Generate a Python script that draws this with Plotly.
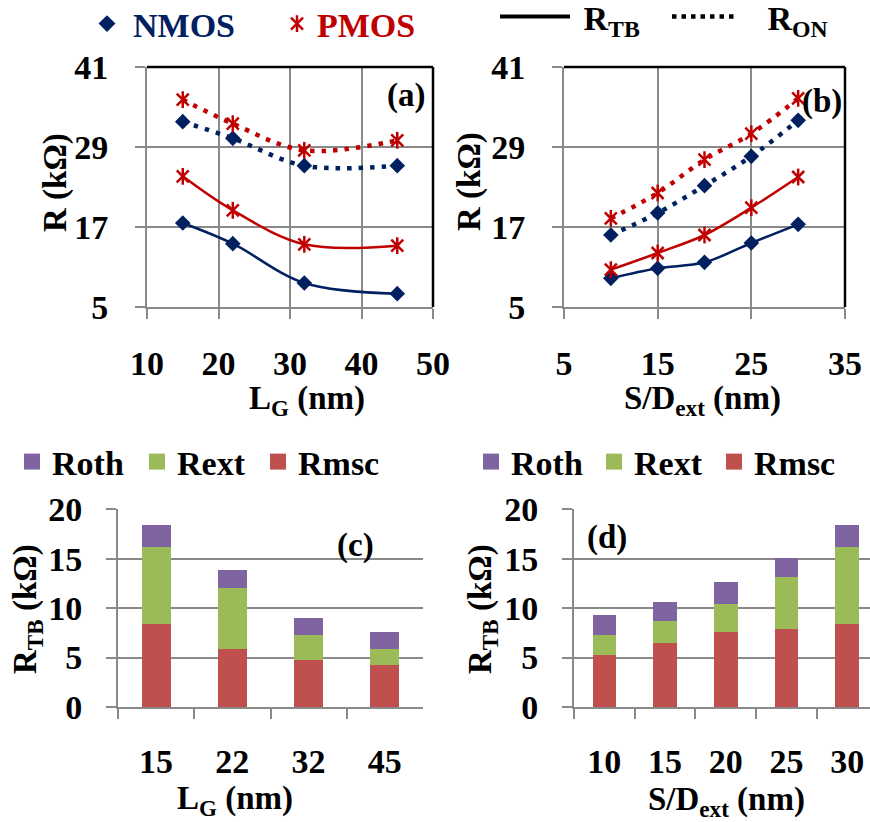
import plotly.graph_objects as go

FONT = "Liberation Serif"
NAVY = "#002060"
RED = "#C00000"
GRID = "#898989"
C_ROTH = "#8064A2"
C_REXT = "#9BBB59"
C_RMSC = "#C0504D"

W, H = 870, 822

# (a) resistance versus gate length
lg = [15, 22, 32, 45]
nmos_rtb_lg = [17.6, 14.5, 8.6, 7.0]
pmos_rtb_lg = [24.6, 19.5, 14.4, 14.2]
nmos_ron_lg = [32.8, 30.3, 26.2, 26.2]
pmos_ron_lg = [36.1, 32.5, 28.5, 30.0]

# (b) resistance versus S/D extension length
sd = [10, 15, 20, 25, 30]
nmos_rtb_sd = [9.3, 10.8, 11.7, 14.6, 17.4]
pmos_rtb_sd = [10.6, 13.1, 15.8, 19.9, 24.5]
nmos_ron_sd = [15.8, 19.1, 23.2, 27.6, 33.0]
pmos_ron_sd = [18.3, 22.1, 27.1, 31.0, 36.3]

# (c) R_TB components versus gate length
lg_cat = ["15", "22", "32", "45"]
rmsc_lg = [8.4, 5.9, 4.8, 4.2]
rext_lg = [7.8, 6.1, 2.5, 1.7]
roth_lg = [2.2, 1.9, 1.7, 1.65]

# (d) R_TB components versus S/D extension length
sd_cat = ["10", "15", "20", "25", "30"]
rmsc_sd = [5.3, 6.45, 7.6, 7.9, 8.4]
rext_sd = [2.0, 2.3, 2.8, 5.3, 7.8]
roth_sd = [2.0, 1.9, 2.2, 1.9, 2.2]


def px(x):
    return x / W


def py(y):
    return 1 - y / H


def bold(size, color="black"):
    return dict(family=FONT, size=size, color=color, weight="bold")


fig = go.Figure()

SOLID = dict(width=2.5, shape="spline")
DOTTED = dict(width=4.5, dash="4.5px,7px", shape="spline")
DIAMOND = dict(symbol="diamond", size=12, color=NAVY)
XMARK = dict(symbol="x-thin-open", size=12, line=dict(width=2.5, color=RED), color=RED)
VMARK = dict(symbol="line-ns-open", size=12, line=dict(width=2.5, color=RED), color=RED)


def add_lines(x, n_rtb, p_rtb, n_ron, p_ron, xa, ya):
    for y, style in ((n_ron, DOTTED), (n_rtb, SOLID)):
        fig.add_trace(go.Scatter(x=x, y=y, mode="lines+markers", showlegend=False,
                                 line=dict(color=NAVY, **style), marker=DIAMOND,
                                 xaxis=xa, yaxis=ya, cliponaxis=False))
    for y, style in ((p_ron, DOTTED), (p_rtb, SOLID)):
        fig.add_trace(go.Scatter(x=x, y=y, mode="lines+markers", showlegend=False,
                                 line=dict(color=RED, **style), marker=XMARK,
                                 xaxis=xa, yaxis=ya, cliponaxis=False))
        fig.add_trace(go.Scatter(x=x, y=y, mode="markers", showlegend=False,
                                 marker=VMARK, xaxis=xa, yaxis=ya, cliponaxis=False))


add_lines(lg, nmos_rtb_lg, pmos_rtb_lg, nmos_ron_lg, pmos_ron_lg, "x", "y")
add_lines(sd, nmos_rtb_sd, pmos_rtb_sd, nmos_ron_sd, pmos_ron_sd, "x2", "y2")

# legend keys for the line panels
fig.add_trace(go.Scatter(x=[None], y=[None], mode="markers", name="NMOS",
                         marker=dict(symbol="diamond", size=13, color=NAVY), legend="legend"))
fig.add_trace(go.Scatter(x=[None], y=[None], mode="markers", name="PMOS",
                         marker=XMARK, legend="legend2"))
fig.add_trace(go.Scatter(x=[None], y=[None], mode="markers", name=" ",
                         marker=VMARK, legend="legend3"))
fig.add_trace(go.Scatter(x=[None], y=[None], mode="lines", name="\u00a0R<sub>TB</sub>",
                         line=dict(color="black", width=4), legend="legend4"))
fig.add_trace(go.Scatter(x=[None], y=[None], mode="lines", name="\u2002\u00a0R<sub>ON</sub>",
                         line=dict(color="black", width=4.5, dash="4.5px,5px"), legend="legend5"))


# stacked bars; legend keys are square markers so the swatch size can be set
def add_bars(cats, rmsc, rext, roth, xa, ya, width, legs):
    for name, vals, col, lgd in (("Rmsc", rmsc, C_RMSC, legs[2]),
                                 ("Rext", rext, C_REXT, legs[1]),
                                 ("Roth", roth, C_ROTH, legs[0])):
        fig.add_trace(go.Bar(x=cats, y=vals, name=name, showlegend=False,
                             marker=dict(color=col, line=dict(width=0)),
                             width=width, xaxis=xa, yaxis=ya))
        fig.add_trace(go.Scatter(x=[None], y=[None], mode="markers", name=name,
                                 marker=dict(symbol="square", size=16, color=col),
                                 xaxis=xa, yaxis=ya, legend=lgd))


add_bars(lg_cat, rmsc_lg, rext_lg, roth_lg, "x3", "y3", 0.38, ("legend6", "legend7", "legend8"))
add_bars(sd_cat, rmsc_sd, rext_sd, roth_sd, "x4", "y4", 0.39, ("legend9", "legend10", "legend11"))

TICKFONT = bold(34)
common_ax = dict(showline=True, linecolor=GRID, linewidth=2, ticks="outside", ticklen=10,
                 tickwidth=2, tickcolor=GRID, tickfont=TICKFONT, zeroline=False)

line_x = dict(common_ax, showgrid=True, gridcolor=GRID, gridwidth=2, dtick=10, ticklabelstandoff=15)
line_y = dict(common_ax, showgrid=True, gridcolor=GRID, gridwidth=2, dtick=12, tick0=5,
              range=[5, 41], ticklabelstandoff=20)
bar_x = dict(common_ax, showgrid=False, type="category", tickson="boundaries", ticklabelstandoff=23)
bar_y = dict(common_ax, showgrid=True, gridcolor=GRID, gridwidth=2, dtick=5, range=[0, 20],
             ticklabelstandoff=17)

Y_TOP = [py(307), py(67)]
Y_BOT = [py(707), py(509.3)]

fig.update_layout(
    xaxis=dict(line_x, domain=[px(147), px(433)], range=[10, 50], tick0=10, anchor="y"),
    yaxis=dict(line_y, domain=Y_TOP, anchor="x"),
    xaxis2=dict(line_x, domain=[px(564), px(845)], range=[5, 35], tick0=5, anchor="y2"),
    yaxis2=dict(line_y, domain=Y_TOP, anchor="x2"),
    xaxis3=dict(bar_x, domain=[px(118), px(423)], range=[-0.5, 3.5], anchor="y3"),
    yaxis3=dict(bar_y, domain=Y_BOT, anchor="x3"),
    xaxis4=dict(bar_x, domain=[px(574), 1.0], range=[-0.5, 4.376], anchor="y4"),
    yaxis4=dict(bar_y, domain=Y_BOT, anchor="x4"),
    barmode="stack",
    width=W, height=H,
    margin=dict(l=0, r=0, t=0, b=0, autoexpand=False),
    paper_bgcolor="white", plot_bgcolor="white",
)


def legend_at(xp, yp, color="black", itemwidth=30):
    return dict(x=px(xp), y=py(yp), xanchor="left", yanchor="middle", font=bold(34, color),
                bgcolor="rgba(0,0,0,0)", borderwidth=0, itemwidth=itemwidth,
                orientation="h", traceorder="normal")


fig.update_layout(
    legend=legend_at(81, 24, NAVY, 42),
    legend2=legend_at(277, 24, RED),
    legend3=legend_at(277, 24, RED),
    legend4=legend_at(495, 17, "black", 70),
    legend5=legend_at(667, 17, "black", 65),
    legend6=legend_at(12, 462),
    legend7=legend_at(137, 462),
    legend8=legend_at(258, 462),
    legend9=legend_at(471, 462),
    legend10=legend_at(594, 462),
    legend11=legend_at(714, 462),
)

# black frame on the top and right of the line panels
for xa, ya in (("x", "y"), ("x2", "y2")):
    fig.add_shape(type="line", xref=f"{xa} domain", yref=f"{ya} domain", x0=0, x1=1, y0=1, y1=1,
                  line=dict(color="black", width=2.5))
    fig.add_shape(type="line", xref=f"{xa} domain", yref=f"{ya} domain", x0=1, x1=1, y0=0, y1=1,
                  line=dict(color="black", width=2.5))

ann = [
    ("R (kΩ)", 55, 183, -90),
    ("R (kΩ)", 469, 182, -90),
    ("L<sub>G</sub> (nm)", 307, 400, 0),
    ("S/D<sub>ext</sub> (nm)", 702, 400, 0),
    ("R<sub>TB</sub> (kΩ)", 27, 609, -90),
    ("R<sub>TB</sub> (kΩ)", 482, 609, -90),
    ("L<sub>G</sub> (nm)", 235, 800, 0),
    ("S/D<sub>ext</sub> (nm)", 726, 801, 0),
    ("(a)", 406, 95, 0),
    ("(b)", 822, 102, 0),
    ("(c)", 355, 545, 0),
    ("(d)", 607, 537, 0),
]
for text, x, y, ang in ann:
    fig.add_annotation(text=text, x=px(x), y=py(y), xref="paper", yref="paper",
                       xanchor="center", yanchor="middle", showarrow=False,
                       textangle=ang, font=bold(33))

fig.write_html("out.html")
